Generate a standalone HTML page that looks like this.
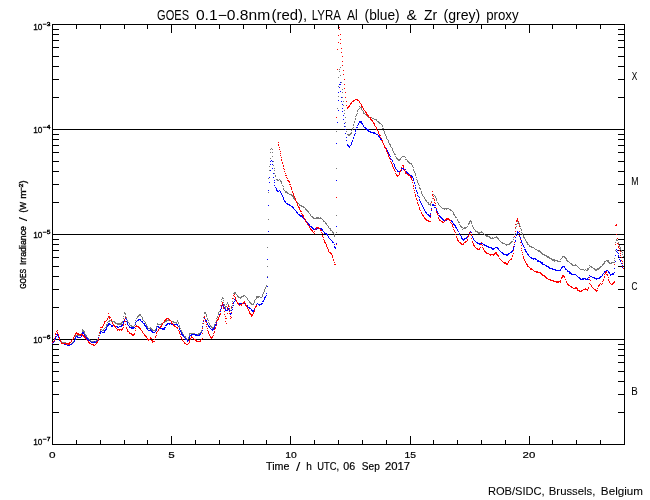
<!DOCTYPE html>
<html><head><meta charset="utf-8"><title>GOES 0.1-0.8nm (red), LYRA Al (blue) &amp; Zr (grey) proxy</title>
<style>
html,body{margin:0;padding:0;background:#fff;}
body{width:650px;height:500px;overflow:hidden;font-family:"Liberation Sans",sans-serif;}
svg{display:block;will-change:transform;}
text{font-family:"Liberation Sans",sans-serif;fill:#000;}
</style></head><body>
<svg width="650" height="500" viewBox="0 0 650 500">
<rect x="0" y="0" width="650" height="500" fill="#fff"/>

<g fill="#000" shape-rendering="crispEdges">
<rect x="52" y="24" width="573" height="1"/>
<rect x="52" y="444" width="573" height="1"/>
<rect x="52" y="24" width="1" height="421"/>
<rect x="624" y="24" width="1" height="421"/>
<rect x="52" y="24" width="1" height="9"/>
<rect x="52" y="436" width="1" height="9"/>
<rect x="76" y="24" width="1" height="5"/>
<rect x="76" y="440" width="1" height="5"/>
<rect x="100" y="24" width="1" height="5"/>
<rect x="100" y="440" width="1" height="5"/>
<rect x="124" y="24" width="1" height="5"/>
<rect x="124" y="440" width="1" height="5"/>
<rect x="147" y="24" width="1" height="5"/>
<rect x="147" y="440" width="1" height="5"/>
<rect x="171" y="24" width="1" height="9"/>
<rect x="171" y="436" width="1" height="9"/>
<rect x="195" y="24" width="1" height="5"/>
<rect x="195" y="440" width="1" height="5"/>
<rect x="219" y="24" width="1" height="5"/>
<rect x="219" y="440" width="1" height="5"/>
<rect x="243" y="24" width="1" height="5"/>
<rect x="243" y="440" width="1" height="5"/>
<rect x="266" y="24" width="1" height="5"/>
<rect x="266" y="440" width="1" height="5"/>
<rect x="290" y="24" width="1" height="9"/>
<rect x="290" y="436" width="1" height="9"/>
<rect x="314" y="24" width="1" height="5"/>
<rect x="314" y="440" width="1" height="5"/>
<rect x="338" y="24" width="1" height="5"/>
<rect x="338" y="440" width="1" height="5"/>
<rect x="362" y="24" width="1" height="5"/>
<rect x="362" y="440" width="1" height="5"/>
<rect x="386" y="24" width="1" height="5"/>
<rect x="386" y="440" width="1" height="5"/>
<rect x="410" y="24" width="1" height="9"/>
<rect x="410" y="436" width="1" height="9"/>
<rect x="433" y="24" width="1" height="5"/>
<rect x="433" y="440" width="1" height="5"/>
<rect x="457" y="24" width="1" height="5"/>
<rect x="457" y="440" width="1" height="5"/>
<rect x="481" y="24" width="1" height="5"/>
<rect x="481" y="440" width="1" height="5"/>
<rect x="505" y="24" width="1" height="5"/>
<rect x="505" y="440" width="1" height="5"/>
<rect x="529" y="24" width="1" height="9"/>
<rect x="529" y="436" width="1" height="9"/>
<rect x="552" y="24" width="1" height="5"/>
<rect x="552" y="440" width="1" height="5"/>
<rect x="576" y="24" width="1" height="5"/>
<rect x="576" y="440" width="1" height="5"/>
<rect x="600" y="24" width="1" height="5"/>
<rect x="600" y="440" width="1" height="5"/>
<rect x="624" y="24" width="1" height="5"/>
<rect x="624" y="440" width="1" height="5"/>
<rect x="52" y="97" width="7" height="1"/>
<rect x="618" y="97" width="7" height="1"/>
<rect x="52" y="79" width="7" height="1"/>
<rect x="618" y="79" width="7" height="1"/>
<rect x="52" y="66" width="7" height="1"/>
<rect x="618" y="66" width="7" height="1"/>
<rect x="52" y="56" width="7" height="1"/>
<rect x="618" y="56" width="7" height="1"/>
<rect x="52" y="47" width="7" height="1"/>
<rect x="618" y="47" width="7" height="1"/>
<rect x="52" y="40" width="7" height="1"/>
<rect x="618" y="40" width="7" height="1"/>
<rect x="52" y="34" width="7" height="1"/>
<rect x="618" y="34" width="7" height="1"/>
<rect x="52" y="29" width="7" height="1"/>
<rect x="618" y="29" width="7" height="1"/>
<rect x="52" y="202" width="7" height="1"/>
<rect x="618" y="202" width="7" height="1"/>
<rect x="52" y="184" width="7" height="1"/>
<rect x="618" y="184" width="7" height="1"/>
<rect x="52" y="171" width="7" height="1"/>
<rect x="618" y="171" width="7" height="1"/>
<rect x="52" y="161" width="7" height="1"/>
<rect x="618" y="161" width="7" height="1"/>
<rect x="52" y="152" width="7" height="1"/>
<rect x="618" y="152" width="7" height="1"/>
<rect x="52" y="145" width="7" height="1"/>
<rect x="618" y="145" width="7" height="1"/>
<rect x="52" y="139" width="7" height="1"/>
<rect x="618" y="139" width="7" height="1"/>
<rect x="52" y="134" width="7" height="1"/>
<rect x="618" y="134" width="7" height="1"/>
<rect x="52" y="307" width="7" height="1"/>
<rect x="618" y="307" width="7" height="1"/>
<rect x="52" y="289" width="7" height="1"/>
<rect x="618" y="289" width="7" height="1"/>
<rect x="52" y="276" width="7" height="1"/>
<rect x="618" y="276" width="7" height="1"/>
<rect x="52" y="266" width="7" height="1"/>
<rect x="618" y="266" width="7" height="1"/>
<rect x="52" y="257" width="7" height="1"/>
<rect x="618" y="257" width="7" height="1"/>
<rect x="52" y="250" width="7" height="1"/>
<rect x="618" y="250" width="7" height="1"/>
<rect x="52" y="244" width="7" height="1"/>
<rect x="618" y="244" width="7" height="1"/>
<rect x="52" y="239" width="7" height="1"/>
<rect x="618" y="239" width="7" height="1"/>
<rect x="52" y="412" width="7" height="1"/>
<rect x="618" y="412" width="7" height="1"/>
<rect x="52" y="394" width="7" height="1"/>
<rect x="618" y="394" width="7" height="1"/>
<rect x="52" y="381" width="7" height="1"/>
<rect x="618" y="381" width="7" height="1"/>
<rect x="52" y="371" width="7" height="1"/>
<rect x="618" y="371" width="7" height="1"/>
<rect x="52" y="362" width="7" height="1"/>
<rect x="618" y="362" width="7" height="1"/>
<rect x="52" y="355" width="7" height="1"/>
<rect x="618" y="355" width="7" height="1"/>
<rect x="52" y="349" width="7" height="1"/>
<rect x="618" y="349" width="7" height="1"/>
<rect x="52" y="344" width="7" height="1"/>
<rect x="618" y="344" width="7" height="1"/>
<rect x="52" y="129" width="573" height="1"/>
<rect x="52" y="234" width="573" height="1"/>
<rect x="52" y="339" width="573" height="1"/>
</g>
<g shape-rendering="crispEdges">
<path fill="#787878" d="M340 67h1v1h-1zM339 69h1v1h-1zM339 71h1v1h-1zM340 75h1v1h-1zM338 77h1v1h-1zM341 82h1v1h-1zM338 86h1v1h-1zM342 89h1v1h-1zM342 92h1v1h-1zM338 96h1v1h-1zM342 97h1v1h-1zM343 101h1v1h-1zM343 105h1v1h-1zM359 106h1v1h-1zM360 107h2v1h-2zM337 108h1v1h-1zM359 108h1v1h-1zM361 108h1v1h-1zM358 109h1v1h-1zM361 109h1v1h-1zM344 110h1v1h-1zM357 110h1v1h-1zM362 110h1v1h-1zM357 111h1v1h-1zM363 111h1v1h-1zM363 112h1v1h-1zM344 113h1v1h-1zM357 113h1v1h-1zM363 113h2v1h-2zM356 114h1v1h-1zM365 114h2v1h-2zM356 115h1v1h-1zM366 115h3v1h-3zM355 116h1v1h-1zM367 116h2v1h-2zM345 117h1v1h-1zM368 117h4v1h-4zM355 118h1v1h-1zM372 118h2v1h-2zM355 119h1v1h-1zM374 119h3v1h-3zM376 120h1v1h-1zM354 121h1v1h-1zM377 121h2v1h-2zM345 122h1v1h-1zM354 122h1v1h-1zM378 122h2v1h-2zM379 123h2v1h-2zM353 124h1v1h-1zM381 124h1v1h-1zM353 125h1v1h-1zM382 125h1v1h-1zM345 126h1v1h-1zM382 126h1v1h-1zM353 127h1v1h-1zM352 128h1v1h-1zM382 128h2v1h-2zM352 129h1v1h-1zM351 130h1v1h-1zM383 130h1v1h-1zM336 131h1v1h-1zM346 131h1v1h-1zM384 131h1v1h-1zM351 132h1v1h-1zM384 132h1v1h-1zM350 133h2v1h-2zM384 133h1v1h-1zM347 134h4v1h-4zM385 134h1v1h-1zM348 135h2v1h-2zM385 135h1v1h-1zM386 136h1v1h-1zM386 137h1v1h-1zM386 138h1v1h-1zM387 139h1v1h-1zM388 140h1v1h-1zM388 141h1v1h-1zM388 142h1v1h-1zM389 143h1v1h-1zM389 144h2v1h-2zM390 145h1v1h-1zM390 146h1v1h-1zM391 147h1v1h-1zM271 148h1v1h-1zM392 148h1v1h-1zM270 149h1v1h-1zM272 149h1v1h-1zM392 149h1v1h-1zM392 150h1v1h-1zM393 151h1v1h-1zM270 152h1v1h-1zM272 152h1v1h-1zM393 152h1v1h-1zM394 153h1v1h-1zM394 154h2v1h-2zM272 156h1v1h-1zM395 156h1v1h-1zM402 156h3v1h-3zM396 157h1v1h-1zM401 157h1v1h-1zM405 157h1v1h-1zM270 158h1v1h-1zM396 158h2v1h-2zM400 158h1v1h-1zM397 159h4v1h-4zM405 159h2v1h-2zM398 160h2v1h-2zM407 160h1v1h-1zM273 161h1v1h-1zM407 161h2v1h-2zM408 162h2v1h-2zM409 163h3v1h-3zM411 164h1v1h-1zM273 165h1v1h-1zM412 165h1v1h-1zM269 166h1v1h-1zM412 166h1v1h-1zM413 167h1v1h-1zM274 168h1v1h-1zM336 168h1v1h-1zM413 169h1v1h-1zM269 170h1v1h-1zM274 170h1v1h-1zM413 170h1v1h-1zM414 171h1v1h-1zM414 172h1v1h-1zM274 173h1v1h-1zM415 173h1v1h-1zM415 174h1v1h-1zM275 175h1v1h-1zM415 175h1v1h-1zM275 176h1v1h-1zM416 177h1v1h-1zM268 178h1v1h-1zM276 179h2v1h-2zM279 179h1v1h-1zM416 179h1v1h-1zM277 180h2v1h-2zM280 180h1v1h-1zM417 180h1v1h-1zM280 181h2v1h-2zM417 181h1v1h-1zM281 182h1v1h-1zM417 182h1v1h-1zM281 183h1v1h-1zM418 183h1v1h-1zM418 184h1v1h-1zM282 185h1v1h-1zM419 185h1v1h-1zM283 186h1v1h-1zM419 187h1v1h-1zM283 188h1v1h-1zM419 188h2v1h-2zM283 189h1v1h-1zM420 189h1v1h-1zM284 190h1v1h-1zM285 191h2v1h-2zM421 191h1v1h-1zM268 192h1v1h-1zM285 192h3v1h-3zM421 192h1v1h-1zM287 193h2v1h-2zM421 193h1v1h-1zM289 194h3v1h-3zM422 194h1v1h-1zM432 194h2v1h-2zM291 195h2v1h-2zM422 195h1v1h-1zM434 195h1v1h-1zM292 196h2v1h-2zM423 196h1v1h-1zM435 196h1v1h-1zM293 197h1v1h-1zM424 197h1v1h-1zM435 197h1v1h-1zM293 198h2v1h-2zM424 198h1v1h-1zM432 198h1v1h-1zM436 198h1v1h-1zM294 199h2v1h-2zM425 199h1v1h-1zM436 199h1v1h-1zM295 200h1v1h-1zM425 200h2v1h-2zM436 200h1v1h-1zM296 201h1v1h-1zM426 201h1v1h-1zM431 201h1v1h-1zM297 202h1v1h-1zM427 202h2v1h-2zM431 202h1v1h-1zM437 202h1v1h-1zM297 203h2v1h-2zM428 203h1v1h-1zM430 203h1v1h-1zM438 203h1v1h-1zM299 204h1v1h-1zM428 204h3v1h-3zM438 204h1v1h-1zM299 205h3v1h-3zM430 205h1v1h-1zM439 205h1v1h-1zM301 206h3v1h-3zM440 206h1v1h-1zM303 207h2v1h-2zM441 207h1v1h-1zM305 208h1v1h-1zM442 208h7v1h-7zM305 209h2v1h-2zM444 209h1v1h-1zM446 209h1v1h-1zM449 209h2v1h-2zM306 210h2v1h-2zM450 210h2v1h-2zM307 211h2v1h-2zM452 211h1v1h-1zM308 212h1v1h-1zM453 212h1v1h-1zM309 213h1v1h-1zM453 213h1v1h-1zM310 214h1v1h-1zM453 214h2v1h-2zM310 215h1v1h-1zM336 215h1v1h-1zM454 215h1v1h-1zM311 216h2v1h-2zM455 216h1v1h-1zM312 217h2v1h-2zM316 217h3v1h-3zM320 217h1v1h-1zM455 217h2v1h-2zM313 218h9v1h-9zM268 219h1v1h-1zM322 219h1v1h-1zM457 219h1v1h-1zM323 220h1v1h-1zM457 220h1v1h-1zM470 220h1v1h-1zM323 221h2v1h-2zM458 221h1v1h-1zM469 221h3v1h-3zM517 221h2v1h-2zM325 222h1v1h-1zM458 222h2v1h-2zM469 222h1v1h-1zM471 222h1v1h-1zM518 222h1v1h-1zM325 223h2v1h-2zM468 223h2v1h-2zM471 223h1v1h-1zM517 223h1v1h-1zM519 223h1v1h-1zM326 224h1v1h-1zM459 224h1v1h-1zM468 224h1v1h-1zM516 224h1v1h-1zM519 224h1v1h-1zM327 225h1v1h-1zM460 225h1v1h-1zM472 225h1v1h-1zM519 225h1v1h-1zM328 226h1v1h-1zM460 226h2v1h-2zM467 226h1v1h-1zM472 226h1v1h-1zM516 226h1v1h-1zM520 226h1v1h-1zM328 227h1v1h-1zM461 227h2v1h-2zM464 227h3v1h-3zM473 227h1v1h-1zM329 228h2v1h-2zM463 228h3v1h-3zM473 228h1v1h-1zM515 228h1v1h-1zM520 228h1v1h-1zM330 229h1v1h-1zM462 229h1v1h-1zM474 229h1v1h-1zM521 229h1v1h-1zM330 230h2v1h-2zM475 230h1v1h-1zM521 230h1v1h-1zM332 231h1v1h-1zM475 231h3v1h-3zM481 231h1v1h-1zM515 231h1v1h-1zM332 232h2v1h-2zM336 232h1v1h-1zM477 232h6v1h-6zM521 232h1v1h-1zM333 233h1v1h-1zM478 233h2v1h-2zM483 233h1v1h-1zM515 233h1v1h-1zM522 233h1v1h-1zM334 234h1v1h-1zM484 234h1v1h-1zM514 234h1v1h-1zM522 234h1v1h-1zM334 235h1v1h-1zM485 235h3v1h-3zM523 235h1v1h-1zM334 236h1v1h-1zM486 236h4v1h-4zM496 236h1v1h-1zM514 236h1v1h-1zM523 236h1v1h-1zM489 237h2v1h-2zM492 237h1v1h-1zM494 237h4v1h-4zM513 237h1v1h-1zM523 237h2v1h-2zM490 238h4v1h-4zM497 238h2v1h-2zM524 238h1v1h-1zM498 239h1v1h-1zM513 239h1v1h-1zM525 239h1v1h-1zM616 239h1v1h-1zM499 240h1v1h-1zM525 240h1v1h-1zM616 240h2v1h-2zM500 241h1v1h-1zM511 241h2v1h-2zM526 241h1v1h-1zM501 242h2v1h-2zM510 242h2v1h-2zM526 242h2v1h-2zM615 242h1v1h-1zM618 242h1v1h-1zM502 243h3v1h-3zM509 243h2v1h-2zM527 243h1v1h-1zM618 243h1v1h-1zM505 244h5v1h-5zM527 244h2v1h-2zM618 244h1v1h-1zM506 245h1v1h-1zM529 245h1v1h-1zM619 245h1v1h-1zM529 246h3v1h-3zM619 246h1v1h-1zM267 247h1v1h-1zM531 247h3v1h-3zM620 247h1v1h-1zM534 248h1v1h-1zM620 248h1v1h-1zM535 249h2v1h-2zM620 249h1v1h-1zM537 250h3v1h-3zM615 250h1v1h-1zM621 250h1v1h-1zM538 251h3v1h-3zM621 251h1v1h-1zM540 252h2v1h-2zM622 252h1v1h-1zM541 253h2v1h-2zM542 254h3v1h-3zM622 254h1v1h-1zM544 255h3v1h-3zM546 256h3v1h-3zM562 256h3v1h-3zM623 256h1v1h-1zM547 257h3v1h-3zM562 257h1v1h-1zM564 257h2v1h-2zM549 258h3v1h-3zM561 258h1v1h-1zM565 258h2v1h-2zM614 258h1v1h-1zM551 259h4v1h-4zM560 259h1v1h-1zM566 259h1v1h-1zM552 260h6v1h-6zM566 260h2v1h-2zM606 260h3v1h-3zM614 260h1v1h-1zM554 261h1v1h-1zM557 261h4v1h-4zM567 261h2v1h-2zM604 261h2v1h-2zM607 261h2v1h-2zM569 262h1v1h-1zM604 262h1v1h-1zM608 262h2v1h-2zM611 262h4v1h-4zM570 263h2v1h-2zM603 263h2v1h-2zM609 263h3v1h-3zM571 264h2v1h-2zM575 264h1v1h-1zM602 264h2v1h-2zM572 265h5v1h-5zM589 265h1v1h-1zM602 265h1v1h-1zM267 266h1v1h-1zM577 266h1v1h-1zM590 266h2v1h-2zM600 266h2v1h-2zM578 267h1v1h-1zM589 267h1v1h-1zM591 267h2v1h-2zM599 267h2v1h-2zM579 268h1v1h-1zM587 268h2v1h-2zM593 268h2v1h-2zM597 268h3v1h-3zM580 269h4v1h-4zM585 269h1v1h-1zM587 269h2v1h-2zM594 269h5v1h-5zM584 270h1v1h-1zM586 270h2v1h-2zM595 270h2v1h-2zM267 276h1v1h-1zM266 285h1v1h-1zM266 286h1v1h-1zM265 287h1v1h-1zM265 288h1v1h-1zM264 289h1v1h-1zM264 290h1v1h-1zM264 291h1v1h-1zM234 292h2v1h-2zM263 292h1v1h-1zM233 293h3v1h-3zM263 293h1v1h-1zM236 294h1v1h-1zM262 294h1v1h-1zM233 295h1v1h-1zM237 295h1v1h-1zM243 295h2v1h-2zM262 295h1v1h-1zM237 296h2v1h-2zM241 296h3v1h-3zM245 296h1v1h-1zM256 296h4v1h-4zM262 296h1v1h-1zM222 297h1v1h-1zM238 297h4v1h-4zM246 297h1v1h-1zM256 297h3v1h-3zM260 297h2v1h-2zM222 298h2v1h-2zM233 298h1v1h-1zM240 298h1v1h-1zM247 298h1v1h-1zM256 298h1v1h-1zM221 299h1v1h-1zM247 299h1v1h-1zM255 299h1v1h-1zM223 300h1v1h-1zM248 300h1v1h-1zM254 300h1v1h-1zM221 301h1v1h-1zM232 301h1v1h-1zM249 301h1v1h-1zM254 301h1v1h-1zM223 302h1v1h-1zM227 302h1v1h-1zM249 302h2v1h-2zM254 302h1v1h-1zM227 303h1v1h-1zM250 303h2v1h-2zM253 303h1v1h-1zM224 304h1v1h-1zM226 304h1v1h-1zM228 304h1v1h-1zM251 304h3v1h-3zM220 305h1v1h-1zM224 305h1v1h-1zM232 305h1v1h-1zM225 306h2v1h-2zM229 306h1v1h-1zM231 306h1v1h-1zM225 307h1v1h-1zM231 307h1v1h-1zM225 308h1v1h-1zM229 308h1v1h-1zM231 308h1v1h-1zM220 309h1v1h-1zM229 309h1v1h-1zM220 310h1v1h-1zM230 310h1v1h-1zM219 311h1v1h-1zM124 312h1v1h-1zM204 312h2v1h-2zM218 312h1v1h-1zM124 313h2v1h-2zM204 313h2v1h-2zM218 313h1v1h-1zM125 314h1v1h-1zM139 314h2v1h-2zM206 314h1v1h-1zM218 314h1v1h-1zM138 315h3v1h-3zM206 315h1v1h-1zM108 316h1v1h-1zM123 316h1v1h-1zM125 316h1v1h-1zM137 316h2v1h-2zM141 316h1v1h-1zM204 316h1v1h-1zM206 316h1v1h-1zM217 316h1v1h-1zM108 317h1v1h-1zM126 317h1v1h-1zM137 317h1v1h-1zM142 317h1v1h-1zM203 317h1v1h-1zM217 317h1v1h-1zM123 318h1v1h-1zM126 318h1v1h-1zM136 318h1v1h-1zM142 318h1v1h-1zM207 318h1v1h-1zM216 318h1v1h-1zM142 319h1v1h-1zM168 319h2v1h-2zM207 319h1v1h-1zM109 320h3v1h-3zM127 320h1v1h-1zM135 320h1v1h-1zM143 320h1v1h-1zM166 320h5v1h-5zM177 320h1v1h-1zM203 320h1v1h-1zM208 320h1v1h-1zM216 320h1v1h-1zM108 321h2v1h-2zM111 321h4v1h-4zM122 321h2v1h-2zM127 321h1v1h-1zM144 321h1v1h-1zM164 321h3v1h-3zM171 321h3v1h-3zM177 321h1v1h-1zM216 321h1v1h-1zM107 322h1v1h-1zM114 322h2v1h-2zM121 322h2v1h-2zM128 322h1v1h-1zM135 322h1v1h-1zM145 322h1v1h-1zM163 322h2v1h-2zM173 322h4v1h-4zM178 322h1v1h-1zM208 322h1v1h-1zM215 322h1v1h-1zM115 323h7v1h-7zM129 323h1v1h-1zM135 323h1v1h-1zM145 323h1v1h-1zM157 323h1v1h-1zM161 323h2v1h-2zM176 323h1v1h-1zM178 323h1v1h-1zM202 323h1v1h-1zM209 323h1v1h-1zM106 324h2v1h-2zM117 324h5v1h-5zM129 324h1v1h-1zM146 324h1v1h-1zM157 324h6v1h-6zM209 324h1v1h-1zM214 324h2v1h-2zM106 325h1v1h-1zM130 325h2v1h-2zM134 325h1v1h-1zM146 325h1v1h-1zM179 325h1v1h-1zM210 325h1v1h-1zM214 325h1v1h-1zM106 326h1v1h-1zM131 326h3v1h-3zM147 326h1v1h-1zM156 326h1v1h-1zM179 326h1v1h-1zM210 326h2v1h-2zM214 326h1v1h-1zM105 327h1v1h-1zM133 327h1v1h-1zM147 327h1v1h-1zM150 327h1v1h-1zM156 327h1v1h-1zM179 327h1v1h-1zM202 327h1v1h-1zM211 327h3v1h-3zM104 328h1v1h-1zM148 328h4v1h-4zM156 328h1v1h-1zM180 328h1v1h-1zM212 328h1v1h-1zM82 329h1v1h-1zM100 329h2v1h-2zM103 329h1v1h-1zM151 329h2v1h-2zM155 329h1v1h-1zM57 330h1v1h-1zM82 330h2v1h-2zM100 330h1v1h-1zM102 330h3v1h-3zM152 330h4v1h-4zM180 330h2v1h-2zM201 330h2v1h-2zM56 331h1v1h-1zM82 331h3v1h-3zM181 331h1v1h-1zM201 331h1v1h-1zM57 332h1v1h-1zM84 332h1v1h-1zM99 332h1v1h-1zM181 332h2v1h-2zM200 332h1v1h-1zM57 333h1v1h-1zM81 333h1v1h-1zM84 333h1v1h-1zM99 333h1v1h-1zM182 333h1v1h-1zM189 333h6v1h-6zM198 333h3v1h-3zM56 334h1v1h-1zM58 334h1v1h-1zM77 334h2v1h-2zM81 334h1v1h-1zM85 334h1v1h-1zM183 334h1v1h-1zM189 334h1v1h-1zM193 334h7v1h-7zM58 335h1v1h-1zM75 335h6v1h-6zM85 335h2v1h-2zM98 335h1v1h-1zM183 335h1v1h-1zM189 335h1v1h-1zM196 335h1v1h-1zM55 336h1v1h-1zM75 336h1v1h-1zM86 336h1v1h-1zM184 336h2v1h-2zM55 337h1v1h-1zM59 337h1v1h-1zM86 337h2v1h-2zM185 337h1v1h-1zM188 337h1v1h-1zM55 338h1v1h-1zM59 338h1v1h-1zM74 338h2v1h-2zM88 338h1v1h-1zM98 338h1v1h-1zM185 338h2v1h-2zM188 338h1v1h-1zM54 339h1v1h-1zM59 339h1v1h-1zM88 339h2v1h-2zM97 339h1v1h-1zM186 339h2v1h-2zM54 340h1v1h-1zM60 340h1v1h-1zM74 340h1v1h-1zM89 340h2v1h-2zM96 340h1v1h-1zM187 340h1v1h-1zM53 341h1v1h-1zM60 341h2v1h-2zM73 341h1v1h-1zM91 341h5v1h-5zM52 342h2v1h-2zM61 342h5v1h-5zM72 342h1v1h-1zM93 342h1v1h-1zM52 343h1v1h-1zM65 343h2v1h-2zM71 343h2v1h-2zM67 344h4v1h-4z"/>
<path fill="#0000ff" d="M340 82h1v1h-1zM339 84h2v1h-2zM339 87h1v1h-1zM340 91h1v1h-1zM338 92h1v1h-1zM341 97h1v1h-1zM338 100h1v1h-1zM341 101h1v1h-1zM342 104h1v1h-1zM342 108h1v1h-1zM338 110h1v1h-1zM342 111h1v1h-1zM343 115h1v1h-1zM343 119h1v1h-1zM359 121h3v1h-3zM337 122h1v1h-1zM359 122h3v1h-3zM344 123h1v1h-1zM358 123h1v1h-1zM361 123h2v1h-2zM358 124h1v1h-1zM362 124h1v1h-1zM357 125h1v1h-1zM363 125h1v1h-1zM344 126h1v1h-1zM363 126h1v1h-1zM356 127h2v1h-2zM364 127h2v1h-2zM365 128h2v1h-2zM345 129h1v1h-1zM356 129h1v1h-1zM366 129h3v1h-3zM355 130h1v1h-1zM367 130h2v1h-2zM355 131h1v1h-1zM368 131h3v1h-3zM370 132h5v1h-5zM345 133h1v1h-1zM355 133h1v1h-1zM373 133h3v1h-3zM354 134h1v1h-1zM376 134h2v1h-2zM354 135h1v1h-1zM378 135h1v1h-1zM378 136h2v1h-2zM346 137h1v1h-1zM353 137h1v1h-1zM379 137h1v1h-1zM353 138h1v1h-1zM380 138h1v1h-1zM380 139h2v1h-2zM346 140h1v1h-1zM352 140h1v1h-1zM381 140h2v1h-2zM352 141h1v1h-1zM382 141h1v1h-1zM351 142h1v1h-1zM382 142h1v1h-1zM336 143h1v1h-1zM351 143h1v1h-1zM383 143h1v1h-1zM347 144h1v1h-1zM351 144h1v1h-1zM383 144h1v1h-1zM347 145h2v1h-2zM350 145h1v1h-1zM384 145h1v1h-1zM348 146h2v1h-2zM384 146h1v1h-1zM349 147h1v1h-1zM385 147h1v1h-1zM385 148h2v1h-2zM386 149h1v1h-1zM387 150h1v1h-1zM387 151h1v1h-1zM388 152h1v1h-1zM388 153h1v1h-1zM389 154h1v1h-1zM389 155h1v1h-1zM390 156h1v1h-1zM390 158h1v1h-1zM391 159h1v1h-1zM271 160h1v1h-1zM392 160h1v1h-1zM270 161h1v1h-1zM272 161h1v1h-1zM392 161h1v1h-1zM393 163h1v1h-1zM270 164h1v1h-1zM272 164h1v1h-1zM394 164h1v1h-1zM394 165h1v1h-1zM394 166h1v1h-1zM395 167h1v1h-1zM272 168h1v1h-1zM395 168h1v1h-1zM401 168h3v1h-3zM396 169h1v1h-1zM401 169h1v1h-1zM403 169h3v1h-3zM270 170h1v1h-1zM397 170h1v1h-1zM400 170h2v1h-2zM404 170h1v1h-1zM397 171h3v1h-3zM405 171h2v1h-2zM406 172h2v1h-2zM273 173h1v1h-1zM407 173h2v1h-2zM409 174h1v1h-1zM410 175h2v1h-2zM411 176h2v1h-2zM269 177h1v1h-1zM273 177h1v1h-1zM412 177h1v1h-1zM413 178h1v1h-1zM413 179h1v1h-1zM274 180h1v1h-1zM336 180h1v1h-1zM413 180h1v1h-1zM269 182h1v1h-1zM274 182h1v1h-1zM414 182h1v1h-1zM414 183h1v1h-1zM274 185h1v1h-1zM415 185h1v1h-1zM275 187h1v1h-1zM415 187h1v1h-1zM276 188h1v1h-1zM415 188h1v1h-1zM276 189h1v1h-1zM268 190h1v1h-1zM276 190h2v1h-2zM279 190h1v1h-1zM416 190h1v1h-1zM277 191h2v1h-2zM280 191h1v1h-1zM416 191h1v1h-1zM280 192h1v1h-1zM417 192h1v1h-1zM281 193h1v1h-1zM417 193h1v1h-1zM281 194h1v1h-1zM282 195h1v1h-1zM417 195h1v1h-1zM282 196h1v1h-1zM418 196h1v1h-1zM283 197h1v1h-1zM419 197h1v1h-1zM283 198h1v1h-1zM283 199h1v1h-1zM419 199h1v1h-1zM284 200h1v1h-1zM419 200h1v1h-1zM284 201h2v1h-2zM420 201h1v1h-1zM285 202h1v1h-1zM420 202h1v1h-1zM286 203h2v1h-2zM421 203h1v1h-1zM287 204h3v1h-3zM421 204h1v1h-1zM432 204h2v1h-2zM268 205h1v1h-1zM289 205h2v1h-2zM422 205h1v1h-1zM432 205h3v1h-3zM291 206h2v1h-2zM422 206h1v1h-1zM292 207h2v1h-2zM423 207h1v1h-1zM434 207h2v1h-2zM293 208h1v1h-1zM423 208h1v1h-1zM431 208h1v1h-1zM436 208h1v1h-1zM294 209h1v1h-1zM424 209h1v1h-1zM436 209h1v1h-1zM295 210h1v1h-1zM424 210h1v1h-1zM431 210h1v1h-1zM436 210h1v1h-1zM296 211h1v1h-1zM425 211h1v1h-1zM437 211h1v1h-1zM296 212h2v1h-2zM425 212h2v1h-2zM437 212h1v1h-1zM297 213h1v1h-1zM426 213h1v1h-1zM430 213h1v1h-1zM438 213h1v1h-1zM298 214h2v1h-2zM427 214h2v1h-2zM299 215h3v1h-3zM428 215h3v1h-3zM438 215h2v1h-2zM300 216h3v1h-3zM429 216h2v1h-2zM439 216h2v1h-2zM302 217h1v1h-1zM440 217h2v1h-2zM303 218h1v1h-1zM441 218h2v1h-2zM304 219h2v1h-2zM442 219h2v1h-2zM446 219h4v1h-4zM305 220h1v1h-1zM443 220h4v1h-4zM449 220h3v1h-3zM305 221h2v1h-2zM451 221h2v1h-2zM306 222h2v1h-2zM452 222h1v1h-1zM307 223h2v1h-2zM453 223h1v1h-1zM308 224h2v1h-2zM453 224h2v1h-2zM309 225h1v1h-1zM454 225h2v1h-2zM310 226h2v1h-2zM336 226h1v1h-1zM455 226h1v1h-1zM311 227h2v1h-2zM455 227h2v1h-2zM312 228h2v1h-2zM315 228h7v1h-7zM456 228h1v1h-1zM313 229h2v1h-2zM316 229h1v1h-1zM321 229h2v1h-2zM457 229h1v1h-1zM322 230h1v1h-1zM457 230h1v1h-1zM268 231h1v1h-1zM323 231h1v1h-1zM458 231h1v1h-1zM470 231h1v1h-1zM517 231h1v1h-1zM324 232h1v1h-1zM469 232h1v1h-1zM471 232h1v1h-1zM517 232h2v1h-2zM324 233h3v1h-3zM459 233h1v1h-1zM469 233h1v1h-1zM517 233h1v1h-1zM519 233h1v1h-1zM326 234h2v1h-2zM459 234h1v1h-1zM469 234h1v1h-1zM471 234h1v1h-1zM516 234h1v1h-1zM327 235h1v1h-1zM460 235h1v1h-1zM468 235h1v1h-1zM516 235h1v1h-1zM519 235h1v1h-1zM328 236h1v1h-1zM461 236h1v1h-1zM467 236h2v1h-2zM472 236h1v1h-1zM519 236h1v1h-1zM328 237h1v1h-1zM461 237h1v1h-1zM466 237h2v1h-2zM472 237h1v1h-1zM515 237h1v1h-1zM520 237h1v1h-1zM329 238h1v1h-1zM461 238h2v1h-2zM464 238h3v1h-3zM473 238h1v1h-1zM520 238h1v1h-1zM330 239h1v1h-1zM462 239h3v1h-3zM473 239h1v1h-1zM331 240h1v1h-1zM463 240h1v1h-1zM474 240h1v1h-1zM515 240h1v1h-1zM521 240h1v1h-1zM332 241h1v1h-1zM475 241h1v1h-1zM515 241h1v1h-1zM521 241h1v1h-1zM332 242h2v1h-2zM476 242h2v1h-2zM521 242h1v1h-1zM336 243h1v1h-1zM477 243h6v1h-6zM522 243h1v1h-1zM334 244h1v1h-1zM479 244h1v1h-1zM483 244h2v1h-2zM514 244h1v1h-1zM522 244h1v1h-1zM484 245h3v1h-3zM523 245h1v1h-1zM334 246h1v1h-1zM486 246h3v1h-3zM514 246h1v1h-1zM523 246h1v1h-1zM334 247h2v1h-2zM488 247h4v1h-4zM495 247h3v1h-3zM513 247h1v1h-1zM524 247h1v1h-1zM335 248h1v1h-1zM491 248h4v1h-4zM497 248h2v1h-2zM513 248h1v1h-1zM492 249h2v1h-2zM498 249h1v1h-1zM513 249h1v1h-1zM524 249h2v1h-2zM616 249h1v1h-1zM499 250h1v1h-1zM512 250h1v1h-1zM525 250h1v1h-1zM617 250h1v1h-1zM500 251h1v1h-1zM511 251h2v1h-2zM525 251h2v1h-2zM616 251h1v1h-1zM501 252h2v1h-2zM510 252h2v1h-2zM526 252h1v1h-1zM617 252h1v1h-1zM502 253h2v1h-2zM508 253h2v1h-2zM527 253h1v1h-1zM618 253h1v1h-1zM503 254h6v1h-6zM527 254h2v1h-2zM506 255h2v1h-2zM528 255h1v1h-1zM615 255h1v1h-1zM618 255h1v1h-1zM529 256h1v1h-1zM618 256h1v1h-1zM530 257h2v1h-2zM619 257h1v1h-1zM531 258h5v1h-5zM267 259h1v1h-1zM533 259h1v1h-1zM535 259h2v1h-2zM619 259h1v1h-1zM537 260h2v1h-2zM620 260h1v1h-1zM537 261h4v1h-4zM615 261h1v1h-1zM620 261h1v1h-1zM540 262h3v1h-3zM541 263h2v1h-2zM621 263h1v1h-1zM542 264h3v1h-3zM545 265h2v1h-2zM622 265h1v1h-1zM546 266h3v1h-3zM562 266h3v1h-3zM622 266h1v1h-1zM548 267h2v1h-2zM561 267h2v1h-2zM564 267h1v1h-1zM622 267h1v1h-1zM549 268h4v1h-4zM561 268h1v1h-1zM565 268h1v1h-1zM614 268h1v1h-1zM623 268h1v1h-1zM552 269h4v1h-4zM560 269h1v1h-1zM565 269h2v1h-2zM555 270h6v1h-6zM567 270h1v1h-1zM606 270h2v1h-2zM567 271h3v1h-3zM604 271h2v1h-2zM608 271h1v1h-1zM569 272h2v1h-2zM604 272h1v1h-1zM608 272h2v1h-2zM614 272h1v1h-1zM569 273h3v1h-3zM603 273h1v1h-1zM609 273h1v1h-1zM612 273h2v1h-2zM571 274h5v1h-5zM602 274h1v1h-1zM610 274h4v1h-4zM576 275h1v1h-1zM589 275h1v1h-1zM602 275h1v1h-1zM610 275h1v1h-1zM577 276h1v1h-1zM590 276h2v1h-2zM600 276h2v1h-2zM267 277h1v1h-1zM578 277h2v1h-2zM588 277h1v1h-1zM592 277h3v1h-3zM599 277h2v1h-2zM579 278h2v1h-2zM582 278h4v1h-4zM587 278h1v1h-1zM594 278h6v1h-6zM580 279h4v1h-4zM585 279h4v1h-4zM596 279h1v1h-1zM267 286h1v1h-1zM266 293h1v1h-1zM266 295h1v1h-1zM265 296h1v1h-1zM264 297h2v1h-2zM264 298h1v1h-1zM234 299h2v1h-2zM264 299h1v1h-1zM235 300h2v1h-2zM263 300h1v1h-1zM234 301h1v1h-1zM236 301h1v1h-1zM262 301h2v1h-2zM233 302h1v1h-1zM237 302h1v1h-1zM243 302h2v1h-2zM233 303h1v1h-1zM238 303h8v1h-8zM257 303h1v1h-1zM261 303h2v1h-2zM222 304h2v1h-2zM239 304h2v1h-2zM245 304h1v1h-1zM256 304h1v1h-1zM258 304h4v1h-4zM222 305h1v1h-1zM233 305h1v1h-1zM245 305h3v1h-3zM256 305h1v1h-1zM259 305h1v1h-1zM221 306h1v1h-1zM223 306h1v1h-1zM247 306h1v1h-1zM255 306h2v1h-2zM224 307h1v1h-1zM232 307h1v1h-1zM247 307h3v1h-3zM255 307h1v1h-1zM221 308h1v1h-1zM224 308h1v1h-1zM227 308h2v1h-2zM249 308h2v1h-2zM254 308h1v1h-1zM220 309h1v1h-1zM225 309h1v1h-1zM227 309h2v1h-2zM232 309h1v1h-1zM251 309h1v1h-1zM254 309h1v1h-1zM225 310h3v1h-3zM229 310h1v1h-1zM231 310h1v1h-1zM251 310h4v1h-4zM220 311h1v1h-1zM229 311h1v1h-1zM252 311h2v1h-2zM231 312h1v1h-1zM220 313h1v1h-1zM230 313h2v1h-2zM219 314h1v1h-1zM230 314h1v1h-1zM219 316h1v1h-1zM125 317h1v1h-1zM204 317h1v1h-1zM218 317h1v1h-1zM125 318h1v1h-1zM204 318h1v1h-1zM218 318h1v1h-1zM124 319h1v1h-1zM126 319h1v1h-1zM138 319h3v1h-3zM205 319h1v1h-1zM217 319h1v1h-1zM124 320h1v1h-1zM137 320h2v1h-2zM140 320h1v1h-1zM205 320h2v1h-2zM217 320h1v1h-1zM123 321h1v1h-1zM126 321h1v1h-1zM136 321h1v1h-1zM141 321h2v1h-2zM203 321h1v1h-1zM206 321h1v1h-1zM216 321h1v1h-1zM123 322h1v1h-1zM127 322h1v1h-1zM135 322h1v1h-1zM142 322h1v1h-1zM206 322h1v1h-1zM216 322h1v1h-1zM108 323h2v1h-2zM123 323h1v1h-1zM127 323h1v1h-1zM143 323h2v1h-2zM167 323h4v1h-4zM203 323h1v1h-1zM207 323h1v1h-1zM108 324h3v1h-3zM113 324h1v1h-1zM122 324h1v1h-1zM127 324h1v1h-1zM135 324h1v1h-1zM144 324h1v1h-1zM166 324h2v1h-2zM169 324h1v1h-1zM171 324h7v1h-7zM207 324h1v1h-1zM215 324h2v1h-2zM107 325h2v1h-2zM111 325h4v1h-4zM121 325h2v1h-2zM128 325h1v1h-1zM144 325h2v1h-2zM165 325h2v1h-2zM173 325h1v1h-1zM177 325h1v1h-1zM208 325h1v1h-1zM215 325h1v1h-1zM107 326h1v1h-1zM111 326h2v1h-2zM115 326h3v1h-3zM119 326h3v1h-3zM129 326h1v1h-1zM135 326h1v1h-1zM145 326h2v1h-2zM157 326h2v1h-2zM178 326h1v1h-1zM202 326h1v1h-1zM208 326h2v1h-2zM214 326h1v1h-1zM106 327h1v1h-1zM117 327h2v1h-2zM129 327h6v1h-6zM146 327h1v1h-1zM158 327h3v1h-3zM164 327h2v1h-2zM209 327h1v1h-1zM214 327h1v1h-1zM106 328h1v1h-1zM131 328h3v1h-3zM146 328h2v1h-2zM156 328h1v1h-1zM160 328h5v1h-5zM179 328h1v1h-1zM202 328h1v1h-1zM210 328h1v1h-1zM213 328h2v1h-2zM105 329h2v1h-2zM147 329h1v1h-1zM150 329h1v1h-1zM156 329h1v1h-1zM162 329h3v1h-3zM179 329h1v1h-1zM211 329h3v1h-3zM104 330h2v1h-2zM148 330h4v1h-4zM156 330h1v1h-1zM180 330h1v1h-1zM202 330h1v1h-1zM212 330h1v1h-1zM100 331h2v1h-2zM104 331h1v1h-1zM151 331h2v1h-2zM155 331h1v1h-1zM180 331h1v1h-1zM82 332h2v1h-2zM100 332h1v1h-1zM102 332h3v1h-3zM152 332h3v1h-3zM181 332h1v1h-1zM201 332h1v1h-1zM57 333h1v1h-1zM82 333h2v1h-2zM100 333h1v1h-1zM181 333h1v1h-1zM200 333h1v1h-1zM56 334h2v1h-2zM82 334h1v1h-1zM84 334h1v1h-1zM181 334h2v1h-2zM191 334h6v1h-6zM199 334h2v1h-2zM57 335h1v1h-1zM81 335h1v1h-1zM84 335h1v1h-1zM99 335h1v1h-1zM182 335h2v1h-2zM190 335h2v1h-2zM195 335h5v1h-5zM56 336h1v1h-1zM58 336h1v1h-1zM76 336h2v1h-2zM81 336h1v1h-1zM84 336h2v1h-2zM183 336h1v1h-1zM189 336h1v1h-1zM55 337h1v1h-1zM58 337h2v1h-2zM75 337h1v1h-1zM77 337h4v1h-4zM85 337h2v1h-2zM98 337h1v1h-1zM184 337h1v1h-1zM189 337h1v1h-1zM55 338h1v1h-1zM75 338h1v1h-1zM86 338h2v1h-2zM185 338h1v1h-1zM189 338h1v1h-1zM55 339h1v1h-1zM59 339h1v1h-1zM75 339h1v1h-1zM87 339h2v1h-2zM98 339h1v1h-1zM185 339h2v1h-2zM54 340h1v1h-1zM59 340h1v1h-1zM74 340h1v1h-1zM88 340h2v1h-2zM97 340h2v1h-2zM187 340h2v1h-2zM53 341h2v1h-2zM60 341h1v1h-1zM74 341h1v1h-1zM90 341h1v1h-1zM94 341h1v1h-1zM96 341h2v1h-2zM187 341h1v1h-1zM52 342h2v1h-2zM61 342h1v1h-1zM73 342h1v1h-1zM91 342h6v1h-6zM52 343h1v1h-1zM61 343h4v1h-4zM72 343h1v1h-1zM64 344h3v1h-3zM70 344h2v1h-2zM67 345h3v1h-3z"/>
<path fill="#ff0000" d="M339 27h1v1h-1zM339 29h1v1h-1zM340 34h1v1h-1zM338 35h1v1h-1zM340 39h1v1h-1zM338 42h1v1h-1zM340 43h1v1h-1zM341 48h1v1h-1zM337 49h1v1h-1zM341 52h1v1h-1zM342 56h1v1h-1zM342 61h1v1h-1zM342 65h1v1h-1zM337 69h1v1h-1zM343 70h1v1h-1zM343 74h1v1h-1zM344 79h1v1h-1zM344 84h1v1h-1zM344 88h1v1h-1zM345 92h1v1h-1zM345 97h1v1h-1zM355 99h3v1h-3zM353 100h2v1h-2zM357 100h2v1h-2zM346 101h1v1h-1zM352 101h2v1h-2zM359 101h1v1h-1zM351 102h1v1h-1zM359 102h1v1h-1zM350 103h2v1h-2zM360 103h1v1h-1zM350 104h1v1h-1zM361 104h1v1h-1zM346 105h1v1h-1zM349 105h1v1h-1zM361 105h1v1h-1zM348 106h2v1h-2zM361 106h2v1h-2zM347 107h2v1h-2zM362 107h1v1h-1zM347 108h1v1h-1zM363 108h1v1h-1zM363 109h1v1h-1zM364 110h1v1h-1zM365 111h1v1h-1zM365 112h2v1h-2zM366 113h1v1h-1zM366 114h2v1h-2zM367 115h2v1h-2zM368 116h1v1h-1zM336 117h1v1h-1zM369 117h2v1h-2zM370 118h1v1h-1zM370 119h2v1h-2zM371 120h2v1h-2zM372 121h1v1h-1zM373 122h1v1h-1zM373 123h2v1h-2zM374 124h1v1h-1zM374 125h1v1h-1zM375 126h1v1h-1zM376 127h1v1h-1zM376 128h1v1h-1zM376 129h1v1h-1zM377 130h1v1h-1zM378 131h1v1h-1zM378 132h1v1h-1zM378 133h1v1h-1zM379 134h1v1h-1zM379 135h2v1h-2zM380 137h1v1h-1zM381 138h1v1h-1zM381 140h2v1h-2zM382 141h1v1h-1zM278 142h1v1h-1zM382 142h1v1h-1zM383 143h1v1h-1zM278 144h1v1h-1zM383 144h1v1h-1zM278 145h1v1h-1zM384 145h1v1h-1zM384 146h1v1h-1zM279 147h1v1h-1zM384 147h2v1h-2zM385 148h1v1h-1zM279 149h1v1h-1zM386 149h1v1h-1zM386 150h1v1h-1zM280 151h1v1h-1zM386 151h1v1h-1zM387 152h1v1h-1zM280 153h1v1h-1zM387 153h1v1h-1zM388 154h1v1h-1zM280 155h1v1h-1zM388 155h1v1h-1zM388 156h1v1h-1zM281 157h1v1h-1zM389 157h1v1h-1zM389 158h1v1h-1zM281 159h1v1h-1zM390 159h1v1h-1zM281 160h1v1h-1zM390 161h1v1h-1zM282 162h1v1h-1zM391 162h1v1h-1zM282 163h1v1h-1zM391 163h1v1h-1zM392 164h1v1h-1zM283 165h1v1h-1zM392 165h1v1h-1zM402 165h2v1h-2zM283 166h1v1h-1zM392 166h1v1h-1zM403 166h1v1h-1zM393 167h1v1h-1zM401 167h1v1h-1zM403 167h1v1h-1zM283 168h1v1h-1zM393 168h1v1h-1zM284 169h1v1h-1zM394 169h1v1h-1zM401 169h1v1h-1zM404 169h1v1h-1zM394 170h1v1h-1zM400 170h1v1h-1zM404 170h1v1h-1zM284 171h1v1h-1zM395 171h1v1h-1zM400 171h1v1h-1zM405 171h1v1h-1zM399 172h1v1h-1zM405 172h1v1h-1zM285 173h1v1h-1zM395 173h1v1h-1zM399 173h1v1h-1zM405 173h2v1h-2zM396 174h1v1h-1zM399 174h1v1h-1zM407 174h2v1h-2zM285 175h2v1h-2zM396 175h3v1h-3zM408 175h2v1h-2zM397 176h1v1h-1zM410 176h1v1h-1zM286 177h1v1h-1zM410 177h2v1h-2zM287 178h1v1h-1zM411 178h1v1h-1zM411 179h1v1h-1zM287 180h2v1h-2zM412 180h1v1h-1zM288 181h2v1h-2zM289 182h1v1h-1zM412 182h1v1h-1zM289 184h2v1h-2zM413 185h1v1h-1zM290 186h1v1h-1zM413 186h1v1h-1zM291 187h1v1h-1zM291 188h1v1h-1zM413 188h1v1h-1zM291 189h1v1h-1zM414 190h1v1h-1zM292 191h1v1h-1zM432 191h1v1h-1zM292 192h1v1h-1zM414 192h1v1h-1zM293 193h1v1h-1zM293 194h1v1h-1zM415 194h1v1h-1zM432 194h1v1h-1zM293 195h1v1h-1zM415 195h1v1h-1zM432 195h1v1h-1zM294 196h1v1h-1zM415 196h1v1h-1zM433 196h1v1h-1zM294 197h1v1h-1zM336 197h1v1h-1zM295 198h1v1h-1zM416 198h1v1h-1zM433 198h1v1h-1zM295 199h1v1h-1zM416 199h1v1h-1zM434 199h1v1h-1zM295 200h1v1h-1zM417 200h1v1h-1zM434 200h1v1h-1zM296 201h1v1h-1zM296 202h1v1h-1zM417 202h1v1h-1zM431 202h1v1h-1zM434 202h1v1h-1zM297 203h1v1h-1zM417 203h1v1h-1zM435 203h1v1h-1zM297 204h1v1h-1zM418 204h1v1h-1zM297 205h1v1h-1zM418 205h1v1h-1zM435 205h1v1h-1zM298 206h1v1h-1zM298 207h2v1h-2zM419 207h1v1h-1zM299 208h1v1h-1zM419 208h1v1h-1zM436 208h1v1h-1zM299 209h1v1h-1zM419 209h1v1h-1zM431 209h1v1h-1zM300 210h1v1h-1zM420 210h1v1h-1zM300 211h2v1h-2zM436 211h1v1h-1zM421 212h1v1h-1zM436 212h1v1h-1zM301 213h1v1h-1zM421 213h1v1h-1zM437 213h1v1h-1zM302 214h1v1h-1zM422 214h1v1h-1zM430 214h1v1h-1zM437 214h1v1h-1zM302 215h2v1h-2zM422 215h2v1h-2zM438 215h1v1h-1zM303 216h1v1h-1zM423 216h1v1h-1zM303 217h1v1h-1zM424 217h1v1h-1zM430 217h1v1h-1zM438 217h1v1h-1zM304 218h1v1h-1zM424 218h2v1h-2zM438 218h1v1h-1zM446 218h3v1h-3zM517 218h1v1h-1zM305 219h1v1h-1zM425 219h2v1h-2zM439 219h1v1h-1zM445 219h5v1h-5zM517 219h1v1h-1zM305 220h1v1h-1zM426 220h3v1h-3zM439 220h2v1h-2zM445 220h1v1h-1zM449 220h2v1h-2zM516 220h2v1h-2zM305 221h1v1h-1zM428 221h3v1h-3zM441 221h2v1h-2zM444 221h1v1h-1zM516 221h1v1h-1zM518 221h1v1h-1zM306 222h1v1h-1zM442 222h2v1h-2zM450 222h1v1h-1zM307 223h1v1h-1zM451 223h1v1h-1zM518 223h1v1h-1zM307 224h1v1h-1zM452 224h1v1h-1zM515 224h1v1h-1zM616 224h1v1h-1zM308 225h1v1h-1zM452 225h1v1h-1zM615 225h2v1h-2zM309 226h1v1h-1zM452 226h1v1h-1zM519 226h1v1h-1zM309 227h1v1h-1zM316 227h3v1h-3zM453 227h1v1h-1zM515 227h1v1h-1zM310 228h1v1h-1zM316 228h1v1h-1zM318 228h2v1h-2zM310 229h2v1h-2zM315 229h1v1h-1zM320 229h1v1h-1zM453 229h1v1h-1zM311 230h2v1h-2zM320 230h2v1h-2zM454 230h1v1h-1zM312 231h1v1h-1zM314 231h1v1h-1zM454 231h1v1h-1zM515 231h1v1h-1zM519 231h1v1h-1zM313 232h1v1h-1zM321 232h1v1h-1zM455 232h1v1h-1zM469 232h2v1h-2zM314 233h1v1h-1zM322 233h1v1h-1zM455 234h1v1h-1zM469 234h1v1h-1zM471 234h1v1h-1zM616 234h1v1h-1zM322 235h1v1h-1zM468 235h1v1h-1zM471 235h1v1h-1zM519 235h1v1h-1zM322 236h1v1h-1zM456 236h1v1h-1zM468 236h1v1h-1zM514 236h1v1h-1zM323 237h1v1h-1zM456 237h1v1h-1zM467 237h1v1h-1zM457 238h1v1h-1zM471 238h1v1h-1zM617 238h1v1h-1zM323 239h1v1h-1zM457 239h1v1h-1zM467 239h1v1h-1zM520 239h1v1h-1zM324 240h1v1h-1zM457 240h2v1h-2zM467 240h1v1h-1zM324 241h1v1h-1zM458 241h1v1h-1zM465 241h2v1h-2zM472 241h1v1h-1zM324 242h2v1h-2zM459 242h2v1h-2zM464 242h2v1h-2zM472 242h1v1h-1zM481 242h1v1h-1zM514 242h1v1h-1zM520 242h1v1h-1zM325 243h1v1h-1zM460 243h2v1h-2zM463 243h1v1h-1zM473 243h1v1h-1zM617 243h1v1h-1zM326 244h1v1h-1zM336 244h1v1h-1zM461 244h3v1h-3zM473 244h1v1h-1zM480 244h2v1h-2zM615 244h1v1h-1zM618 244h1v1h-1zM326 245h1v1h-1zM473 245h2v1h-2zM482 245h1v1h-1zM521 245h1v1h-1zM326 246h1v1h-1zM474 246h1v1h-1zM513 246h1v1h-1zM618 246h1v1h-1zM327 247h1v1h-1zM475 247h1v1h-1zM480 247h1v1h-1zM482 247h1v1h-1zM618 247h1v1h-1zM327 248h1v1h-1zM476 248h2v1h-2zM479 248h1v1h-1zM483 248h1v1h-1zM521 248h1v1h-1zM619 248h1v1h-1zM328 249h1v1h-1zM477 249h3v1h-3zM483 249h1v1h-1zM328 250h1v1h-1zM484 250h1v1h-1zM513 250h1v1h-1zM521 250h1v1h-1zM619 250h1v1h-1zM328 251h1v1h-1zM484 251h2v1h-2zM620 251h1v1h-1zM329 252h2v1h-2zM485 252h2v1h-2zM495 252h2v1h-2zM522 252h1v1h-1zM330 253h2v1h-2zM486 253h3v1h-3zM494 253h3v1h-3zM513 253h1v1h-1zM620 253h1v1h-1zM331 254h1v1h-1zM489 254h6v1h-6zM496 254h2v1h-2zM522 254h1v1h-1zM332 255h1v1h-1zM490 255h1v1h-1zM493 255h1v1h-1zM497 255h2v1h-2zM512 255h1v1h-1zM620 255h1v1h-1zM332 256h1v1h-1zM498 256h1v1h-1zM512 256h1v1h-1zM523 256h1v1h-1zM332 257h1v1h-1zM523 257h1v1h-1zM621 257h1v1h-1zM499 258h1v1h-1zM511 258h1v1h-1zM523 258h1v1h-1zM333 259h1v1h-1zM500 259h1v1h-1zM510 259h2v1h-2zM524 259h1v1h-1zM333 260h1v1h-1zM501 260h1v1h-1zM509 260h1v1h-1zM524 260h1v1h-1zM621 260h1v1h-1zM502 261h1v1h-1zM508 261h1v1h-1zM525 261h1v1h-1zM622 261h1v1h-1zM334 262h1v1h-1zM503 262h3v1h-3zM508 262h1v1h-1zM525 262h1v1h-1zM504 263h4v1h-4zM526 263h1v1h-1zM622 263h1v1h-1zM334 264h2v1h-2zM506 264h2v1h-2zM526 264h2v1h-2zM614 264h1v1h-1zM527 265h1v1h-1zM527 266h2v1h-2zM622 266h1v1h-1zM529 267h1v1h-1zM530 268h2v1h-2zM623 268h1v1h-1zM530 269h3v1h-3zM533 270h1v1h-1zM534 271h4v1h-4zM606 271h1v1h-1zM536 272h5v1h-5zM605 272h2v1h-2zM540 273h2v1h-2zM605 273h1v1h-1zM541 274h2v1h-2zM604 274h1v1h-1zM606 274h2v1h-2zM542 275h3v1h-3zM562 275h2v1h-2zM607 275h1v1h-1zM544 276h2v1h-2zM562 276h3v1h-3zM604 276h1v1h-1zM545 277h2v1h-2zM561 277h2v1h-2zM564 277h1v1h-1zM589 277h1v1h-1zM604 277h1v1h-1zM608 277h1v1h-1zM546 278h2v1h-2zM561 278h1v1h-1zM548 279h3v1h-3zM565 279h1v1h-1zM589 279h1v1h-1zM603 279h1v1h-1zM608 279h1v1h-1zM550 280h4v1h-4zM560 280h1v1h-1zM590 280h1v1h-1zM603 280h1v1h-1zM608 280h1v1h-1zM553 281h8v1h-8zM566 281h1v1h-1zM602 281h1v1h-1zM609 281h1v1h-1zM614 281h1v1h-1zM556 282h3v1h-3zM560 282h1v1h-1zM566 282h1v1h-1zM609 282h1v1h-1zM613 282h2v1h-2zM567 283h1v1h-1zM589 283h1v1h-1zM600 283h1v1h-1zM602 283h1v1h-1zM610 283h1v1h-1zM612 283h2v1h-2zM567 284h2v1h-2zM590 284h1v1h-1zM599 284h1v1h-1zM601 284h1v1h-1zM611 284h2v1h-2zM568 285h2v1h-2zM591 285h1v1h-1zM598 285h2v1h-2zM570 286h2v1h-2zM591 286h1v1h-1zM598 286h1v1h-1zM571 287h2v1h-2zM575 287h2v1h-2zM588 287h1v1h-1zM592 287h1v1h-1zM573 288h5v1h-5zM585 288h1v1h-1zM588 288h1v1h-1zM593 288h1v1h-1zM597 288h1v1h-1zM577 289h1v1h-1zM583 289h5v1h-5zM594 289h2v1h-2zM577 290h3v1h-3zM581 290h2v1h-2zM587 290h1v1h-1zM595 290h3v1h-3zM579 291h3v1h-3zM596 291h1v1h-1zM234 294h1v1h-1zM233 295h1v1h-1zM234 296h1v1h-1zM235 297h1v1h-1zM232 298h1v1h-1zM235 298h1v1h-1zM235 299h1v1h-1zM236 300h1v1h-1zM236 301h1v1h-1zM244 301h1v1h-1zM222 302h1v1h-1zM237 302h1v1h-1zM243 302h2v1h-2zM222 303h1v1h-1zM232 303h1v1h-1zM237 303h2v1h-2zM242 303h2v1h-2zM245 303h1v1h-1zM222 304h1v1h-1zM238 304h1v1h-1zM240 304h2v1h-2zM245 304h1v1h-1zM221 305h1v1h-1zM223 305h1v1h-1zM228 305h1v1h-1zM239 305h1v1h-1zM241 305h1v1h-1zM245 305h2v1h-2zM256 305h1v1h-1zM228 306h1v1h-1zM246 306h1v1h-1zM255 306h2v1h-2zM221 307h1v1h-1zM223 307h1v1h-1zM227 307h1v1h-1zM231 307h1v1h-1zM247 307h1v1h-1zM255 307h1v1h-1zM223 308h1v1h-1zM229 308h1v1h-1zM247 308h1v1h-1zM254 308h1v1h-1zM227 309h1v1h-1zM248 309h1v1h-1zM220 310h1v1h-1zM248 310h1v1h-1zM254 310h1v1h-1zM224 311h1v1h-1zM229 311h1v1h-1zM249 311h1v1h-1zM254 311h1v1h-1zM231 312h1v1h-1zM249 312h1v1h-1zM253 312h1v1h-1zM108 313h1v1h-1zM220 313h1v1h-1zM227 313h1v1h-1zM229 313h1v1h-1zM249 313h2v1h-2zM253 313h1v1h-1zM220 314h1v1h-1zM224 314h1v1h-1zM250 314h3v1h-3zM219 315h1v1h-1zM251 315h2v1h-2zM108 316h2v1h-2zM204 316h1v1h-1zM219 316h1v1h-1zM225 316h1v1h-1zM230 316h1v1h-1zM251 316h1v1h-1zM109 317h2v1h-2zM125 317h1v1h-1zM204 317h1v1h-1zM218 317h1v1h-1zM231 317h1v1h-1zM107 318h1v1h-1zM109 318h1v1h-1zM166 318h3v1h-3zM218 318h1v1h-1zM225 318h2v1h-2zM230 318h1v1h-1zM107 319h1v1h-1zM111 319h1v1h-1zM124 319h1v1h-1zM165 319h2v1h-2zM169 319h1v1h-1zM205 319h1v1h-1zM217 319h2v1h-2zM106 320h1v1h-1zM111 320h1v1h-1zM164 320h2v1h-2zM169 320h2v1h-2zM203 320h1v1h-1zM217 320h1v1h-1zM104 321h2v1h-2zM124 321h2v1h-2zM164 321h1v1h-1zM171 321h1v1h-1zM205 321h1v1h-1zM216 321h1v1h-1zM225 321h1v1h-1zM104 322h1v1h-1zM112 322h1v1h-1zM163 322h1v1h-1zM171 322h1v1h-1zM206 322h1v1h-1zM104 323h1v1h-1zM112 323h1v1h-1zM162 323h1v1h-1zM171 323h2v1h-2zM203 323h1v1h-1zM216 323h1v1h-1zM226 323h1v1h-1zM103 324h1v1h-1zM113 324h1v1h-1zM123 324h1v1h-1zM125 324h1v1h-1zM162 324h1v1h-1zM173 324h1v1h-1zM206 324h1v1h-1zM103 325h1v1h-1zM113 325h2v1h-2zM123 325h1v1h-1zM136 325h1v1h-1zM161 325h1v1h-1zM173 325h2v1h-2zM216 325h1v1h-1zM102 326h1v1h-1zM114 326h2v1h-2zM135 326h4v1h-4zM160 326h2v1h-2zM174 326h2v1h-2zM206 326h1v1h-1zM100 327h3v1h-3zM115 327h1v1h-1zM123 327h1v1h-1zM126 327h1v1h-1zM138 327h2v1h-2zM160 327h1v1h-1zM176 327h2v1h-2zM215 327h1v1h-1zM116 328h1v1h-1zM122 328h1v1h-1zM126 328h1v1h-1zM135 328h1v1h-1zM139 328h2v1h-2zM159 328h1v1h-1zM177 328h1v1h-1zM202 328h1v1h-1zM207 328h1v1h-1zM215 328h1v1h-1zM100 329h1v1h-1zM117 329h6v1h-6zM127 329h1v1h-1zM140 329h1v1h-1zM158 329h1v1h-1zM214 329h1v1h-1zM57 330h1v1h-1zM117 330h1v1h-1zM119 330h1v1h-1zM121 330h1v1h-1zM127 330h1v1h-1zM135 330h1v1h-1zM141 330h1v1h-1zM158 330h1v1h-1zM178 330h1v1h-1zM207 330h1v1h-1zM56 331h1v1h-1zM127 331h2v1h-2zM142 331h1v1h-1zM157 331h1v1h-1zM179 331h1v1h-1zM208 331h1v1h-1zM214 331h1v1h-1zM57 332h1v1h-1zM76 332h1v1h-1zM99 332h1v1h-1zM129 332h1v1h-1zM142 332h1v1h-1zM156 332h1v1h-1zM179 332h1v1h-1zM208 332h1v1h-1zM214 332h1v1h-1zM55 333h1v1h-1zM57 333h1v1h-1zM75 333h4v1h-4zM129 333h3v1h-3zM134 333h1v1h-1zM143 333h1v1h-1zM156 333h1v1h-1zM179 333h1v1h-1zM202 333h1v1h-1zM208 333h1v1h-1zM213 333h1v1h-1zM55 334h1v1h-1zM58 334h1v1h-1zM75 334h1v1h-1zM77 334h6v1h-6zM131 334h4v1h-4zM144 334h1v1h-1zM180 334h1v1h-1zM209 334h1v1h-1zM58 335h1v1h-1zM74 335h1v1h-1zM80 335h1v1h-1zM82 335h2v1h-2zM99 335h1v1h-1zM132 335h2v1h-2zM144 335h2v1h-2zM156 335h1v1h-1zM209 335h1v1h-1zM213 335h1v1h-1zM55 336h1v1h-1zM74 336h1v1h-1zM83 336h2v1h-2zM145 336h2v1h-2zM155 336h1v1h-1zM180 336h1v1h-1zM191 336h1v1h-1zM210 336h1v1h-1zM212 336h1v1h-1zM59 337h1v1h-1zM73 337h1v1h-1zM84 337h2v1h-2zM146 337h1v1h-1zM150 337h1v1h-1zM155 337h1v1h-1zM181 337h1v1h-1zM191 337h2v1h-2zM210 337h3v1h-3zM54 338h1v1h-1zM59 338h1v1h-1zM73 338h1v1h-1zM85 338h1v1h-1zM98 338h1v1h-1zM147 338h1v1h-1zM150 338h2v1h-2zM181 338h1v1h-1zM190 338h1v1h-1zM193 338h1v1h-1zM202 338h1v1h-1zM211 338h1v1h-1zM59 339h1v1h-1zM72 339h1v1h-1zM86 339h1v1h-1zM98 339h1v1h-1zM147 339h3v1h-3zM154 339h1v1h-1zM182 339h1v1h-1zM190 339h1v1h-1zM194 339h2v1h-2zM201 339h1v1h-1zM54 340h1v1h-1zM60 340h1v1h-1zM71 340h1v1h-1zM87 340h1v1h-1zM98 340h1v1h-1zM148 340h1v1h-1zM151 340h2v1h-2zM182 340h1v1h-1zM189 340h1v1h-1zM195 340h2v1h-2zM200 340h1v1h-1zM53 341h1v1h-1zM60 341h1v1h-1zM71 341h1v1h-1zM88 341h1v1h-1zM97 341h1v1h-1zM152 341h3v1h-3zM183 341h1v1h-1zM189 341h1v1h-1zM196 341h5v1h-5zM52 342h1v1h-1zM61 342h1v1h-1zM69 342h2v1h-2zM88 342h2v1h-2zM96 342h2v1h-2zM152 342h1v1h-1zM184 342h1v1h-1zM189 342h1v1h-1zM61 343h9v1h-9zM89 343h2v1h-2zM96 343h1v1h-1zM184 343h2v1h-2zM188 343h1v1h-1zM66 344h1v1h-1zM68 344h2v1h-2zM91 344h3v1h-3zM95 344h1v1h-1zM186 344h2v1h-2zM93 345h2v1h-2z"/>
</g>
<text x="157.08" y="20.30" font-size="14.30" textLength="31.98" lengthAdjust="spacingAndGlyphs">GOES</text>
<text x="195.91" y="20.30" font-size="14.30" textLength="74.30" lengthAdjust="spacingAndGlyphs">0.1&#8722;0.8nm</text>
<text x="271.50" y="20.30" font-size="14.30" textLength="35.61" lengthAdjust="spacingAndGlyphs">(red),</text>
<text x="311.70" y="20.30" font-size="14.30" textLength="29.24" lengthAdjust="spacingAndGlyphs">LYRA</text>
<text x="347.00" y="20.30" font-size="14.30" textLength="10.80" lengthAdjust="spacingAndGlyphs">Al</text>
<text x="364.56" y="20.30" font-size="14.30" textLength="35.16" lengthAdjust="spacingAndGlyphs">(blue)</text>
<text x="406.52" y="20.30" font-size="14.30" textLength="10.25" lengthAdjust="spacingAndGlyphs">&amp;</text>
<text x="423.97" y="20.30" font-size="14.30" textLength="13.10" lengthAdjust="spacingAndGlyphs">Zr</text>
<text x="443.54" y="20.30" font-size="14.30" textLength="36.79" lengthAdjust="spacingAndGlyphs">(grey)</text>
<text x="486.17" y="20.30" font-size="14.30" textLength="32.43" lengthAdjust="spacingAndGlyphs">proxy</text>
<text x="266.03" y="470.20" font-size="10.00" textLength="23.40" lengthAdjust="spacingAndGlyphs" stroke="#000" stroke-width="0.17">Time</text>
<text x="295.90" y="471.40" font-size="13.50" textLength="4.35" lengthAdjust="spacingAndGlyphs">/</text>
<text x="306.17" y="470.20" font-size="10.00" textLength="5.59" lengthAdjust="spacingAndGlyphs" stroke="#000" stroke-width="0.17">h</text>
<text x="317.22" y="470.20" font-size="10.00" textLength="21.78" lengthAdjust="spacingAndGlyphs" stroke="#000" stroke-width="0.17">UTC,</text>
<text x="343.37" y="470.20" font-size="10.00" textLength="11.87" lengthAdjust="spacingAndGlyphs" stroke="#000" stroke-width="0.17">06</text>
<text x="361.89" y="470.20" font-size="10.00" textLength="17.92" lengthAdjust="spacingAndGlyphs" stroke="#000" stroke-width="0.17">Sep</text>
<text x="384.97" y="470.20" font-size="10.00" textLength="25.19" lengthAdjust="spacingAndGlyphs" stroke="#000" stroke-width="0.17">2017</text>
<text x="487.93" y="495.20" font-size="11.20" textLength="56.80" lengthAdjust="spacingAndGlyphs" stroke="#000" stroke-width="0.06">ROB/SIDC,</text>
<text x="548.81" y="495.20" font-size="11.20" textLength="46.63" lengthAdjust="spacingAndGlyphs" stroke="#000" stroke-width="0.06">Brussels,</text>
<text x="600.89" y="495.20" font-size="11.20" textLength="42.11" lengthAdjust="spacingAndGlyphs" stroke="#000" stroke-width="0.06">Belgium</text>
<text x="49.13" y="458.20" font-size="9.60" textLength="6.56" lengthAdjust="spacingAndGlyphs" stroke="#000" stroke-width="0.21">0</text>
<text x="168.24" y="458.20" font-size="9.60" textLength="6.43" lengthAdjust="spacingAndGlyphs" stroke="#000" stroke-width="0.21">5</text>
<text x="285.15" y="458.20" font-size="9.60" textLength="11.50" lengthAdjust="spacingAndGlyphs" stroke="#000" stroke-width="0.21">10</text>
<text x="404.56" y="458.20" font-size="9.60" textLength="11.46" lengthAdjust="spacingAndGlyphs" stroke="#000" stroke-width="0.21">15</text>
<text x="522.56" y="458.20" font-size="9.60" textLength="12.72" lengthAdjust="spacingAndGlyphs" stroke="#000" stroke-width="0.21">20</text>
<text x="33.28" y="30.20" font-size="8.60" textLength="9.22" lengthAdjust="spacingAndGlyphs" stroke="#000" stroke-width="0.29">10</text>
<text x="42.89" y="26.20" font-size="5.80" textLength="7.58" lengthAdjust="spacingAndGlyphs" stroke="#000" stroke-width="0.40">&#8722;3</text>
<text x="33.28" y="133.20" font-size="8.60" textLength="9.22" lengthAdjust="spacingAndGlyphs" stroke="#000" stroke-width="0.29">10</text>
<text x="42.89" y="129.20" font-size="5.80" textLength="7.47" lengthAdjust="spacingAndGlyphs" stroke="#000" stroke-width="0.40">&#8722;4</text>
<text x="33.28" y="238.20" font-size="8.60" textLength="9.22" lengthAdjust="spacingAndGlyphs" stroke="#000" stroke-width="0.29">10</text>
<text x="42.89" y="234.20" font-size="5.80" textLength="7.58" lengthAdjust="spacingAndGlyphs" stroke="#000" stroke-width="0.40">&#8722;5</text>
<text x="33.28" y="343.20" font-size="8.60" textLength="9.22" lengthAdjust="spacingAndGlyphs" stroke="#000" stroke-width="0.29">10</text>
<text x="42.89" y="339.20" font-size="5.80" textLength="7.58" lengthAdjust="spacingAndGlyphs" stroke="#000" stroke-width="0.40">&#8722;6</text>
<text x="33.28" y="445.20" font-size="8.60" textLength="9.22" lengthAdjust="spacingAndGlyphs" stroke="#000" stroke-width="0.29">10</text>
<text x="42.89" y="441.20" font-size="5.80" textLength="7.58" lengthAdjust="spacingAndGlyphs" stroke="#000" stroke-width="0.40">&#8722;7</text>
<text x="631.87" y="80.20" font-size="11.20" textLength="5.52" lengthAdjust="spacingAndGlyphs" stroke="#000" stroke-width="0.06">X</text>
<text x="631.32" y="185.20" font-size="11.20" textLength="7.27" lengthAdjust="spacingAndGlyphs" stroke="#000" stroke-width="0.06">M</text>
<text x="631.61" y="290.20" font-size="11.20" textLength="5.97" lengthAdjust="spacingAndGlyphs" stroke="#000" stroke-width="0.06">C</text>
<text x="631.24" y="395.20" font-size="11.20" textLength="6.46" lengthAdjust="spacingAndGlyphs" stroke="#000" stroke-width="0.06">B</text>
<g transform="translate(26.2,288.5) rotate(-90)">
<text x="-0.32" y="0.00" font-size="8.20" textLength="19.91" lengthAdjust="spacingAndGlyphs" stroke="#000" stroke-width="0.33">GOES</text>
<text x="23.41" y="0.00" font-size="8.20" textLength="39.04" lengthAdjust="spacingAndGlyphs" stroke="#000" stroke-width="0.33">Irradiance</text>
<text x="67.20" y="1.00" font-size="11.00" textLength="4.15" lengthAdjust="spacingAndGlyphs">/</text>
<text x="76.11" y="0.00" font-size="8.20" textLength="10.51" lengthAdjust="spacingAndGlyphs" stroke="#000" stroke-width="0.33">(W</text>
<text x="89.67" y="0.00" font-size="8.20" textLength="8.34" lengthAdjust="spacingAndGlyphs" stroke="#000" stroke-width="0.33">m</text>
<text x="97.49" y="-3.60" font-size="5.40" textLength="7.47" lengthAdjust="spacingAndGlyphs" stroke="#000" stroke-width="0.40">&#8722;2</text>
<text x="105.10" y="0.00" font-size="8.20" textLength="3.08" lengthAdjust="spacingAndGlyphs" stroke="#000" stroke-width="0.33">)</text>
</g>
</svg>
</body></html>
